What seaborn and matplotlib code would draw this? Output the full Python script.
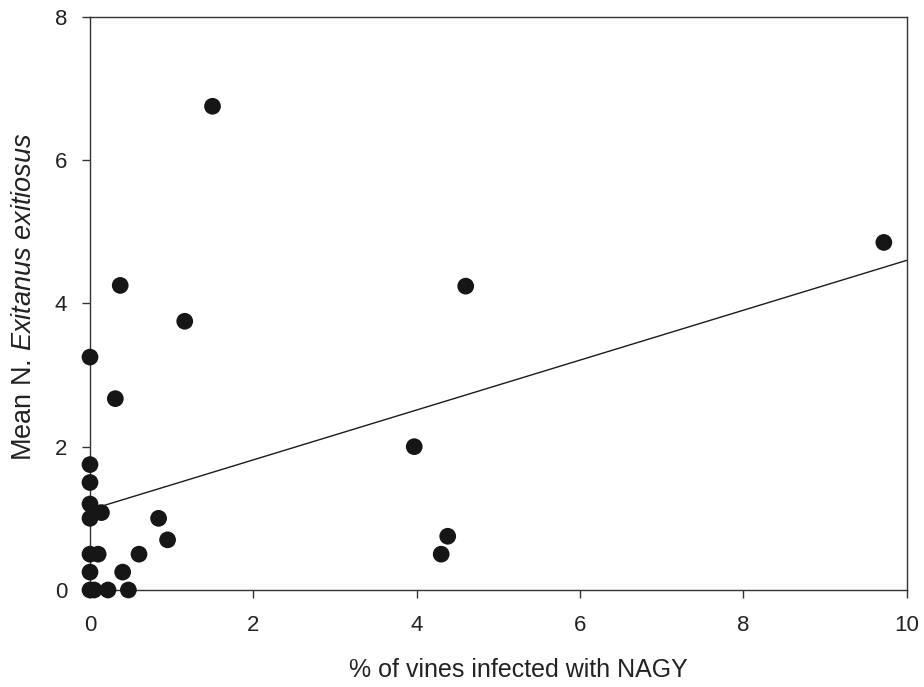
import pandas as pd
import seaborn as sns
import matplotlib.pyplot as plt

# Data
pct_infected = [0, 0, 0, 0, 0, 0, 0, 0, 0.05, 0.10, 0.14, 0.22, 0.31,
                0.37, 0.40, 0.47, 0.60, 0.84, 0.95, 1.16, 1.50, 3.97, 4.30,
                4.38, 4.60, 9.72]
mean_n = [3.25, 1.75, 1.50, 1.20, 1.00, 0.50, 0.25, 0.00, 0.00, 0.50,
          1.08, 0.00, 2.67, 4.25, 0.25, 0.00, 0.50, 1.00, 0.70, 3.75, 6.75,
          2.00, 0.50, 0.75, 4.24, 4.85]

# regression line end points
fit_x = [0, 10]
fit_y = [1.12, 4.60]

df = pd.DataFrame({'pct': pct_infected, 'mean_n': mean_n})
fit = pd.DataFrame({'x': fit_x, 'y': fit_y})

sns.set_style('ticks')
plt.rcParams['font.family'] = ['Liberation Sans', 'DejaVu Sans']
plt.rcParams['mathtext.fontset'] = 'custom'
plt.rcParams['mathtext.rm'] = 'Liberation Sans'
plt.rcParams['mathtext.it'] = 'Liberation Sans:italic'

fig = plt.figure(figsize=(9.24, 6.87), dpi=100)
ax = fig.add_axes([0.0974, 0.1412, 0.8839, 0.8345])

sns.lineplot(data=fit, x='x', y='y', color='#1a1a1a', linewidth=1.0, ax=ax)
sns.scatterplot(data=df, x='pct', y='mean_n', color='#161616', s=145,
                edgecolor='none', clip_on=False, zorder=3, ax=ax)

ax.set_xlim(0, 10)
ax.set_ylim(0, 8)
ax.set_xticks([0, 2, 4, 6, 8, 10])
ax.set_yticks([0, 2, 4, 6, 8])
ax.tick_params(direction='out', length=6, width=1, colors='#333333',
               labelsize=16, labelcolor='#222222', pad=10.5)
ax.tick_params(axis='x', pad=12)
for side in ['left', 'right', 'top', 'bottom']:
    ax.spines[side].set_visible(True)
    ax.spines[side].set_color('#333333')
    ax.spines[side].set_linewidth(1.0)

ax.set_xlabel('% of vines infected with NAGY', fontsize=18, color='#222222', labelpad=16)
ax.set_ylabel(r'Mean N. $\mathit{Exitanus\ exitiosus}$', fontsize=19.5,
              color='#222222', labelpad=13)
# labels sit a little off-centre in the original
ax.xaxis.label.set_x(0.524)
ax.yaxis.label.set_y(0.512)

fig.savefig('out.png', dpi=100)
